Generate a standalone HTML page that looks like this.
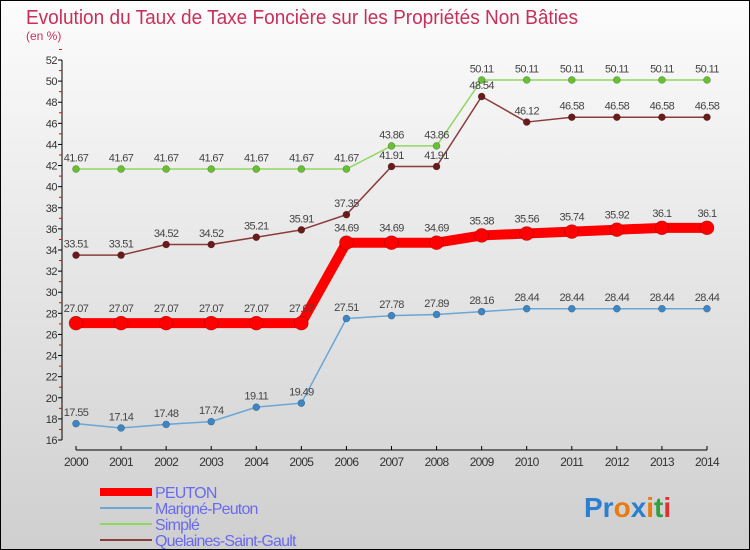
<!DOCTYPE html>
<html><head><meta charset="utf-8"><style>
body{margin:0}
svg{display:block;font-family:"Liberation Sans",sans-serif}
</style></head><body>
<svg id="c" width="750" height="550" xmlns="http://www.w3.org/2000/svg">
<defs><linearGradient id="bg" x1="0" y1="0" x2="0" y2="1"><stop offset="0" stop-color="#fcfcfc"/><stop offset="1" stop-color="#cfcfcf"/></linearGradient></defs>
<rect x="0.5" y="0.5" width="749" height="549" fill="url(#bg)" stroke="#000"/>
<text x="26" y="24" font-size="20" fill="#c8305a" textLength="552" lengthAdjust="spacingAndGlyphs">Evolution du Taux de Taxe Foncière sur les Propriétés Non Bâties</text>
<text x="26" y="40" font-size="12" fill="#c8305a">(en %)</text>
<g id="axes"></g>
<g id="series"></g>
<g id="legend"></g>
<text x="584" y="517" font-size="28" font-weight="bold"><tspan fill="#2a7fd0">Pr</tspan><tspan fill="#e87a10">o</tspan><tspan fill="#2a7fd0">x</tspan><tspan fill="#e87a10">i</tspan><tspan fill="#30a040">t</tspan><tspan fill="#e03030">i</tspan></text>
</svg>
<script>
const years=[2000,2001,2002,2003,2004,2005,2006,2007,2008,2009,2010,2011,2012,2013,2014];
const yTicks=[16,18,20,22,24,26,28,30,32,34,36,38,40,42,44,46,48,50,52];
const peuton=[27.07,27.07,27.07,27.07,27.07,27.07,34.69,34.69,34.69,35.38,35.56,35.74,35.92,36.1,36.1];
const marigne=[17.55,17.14,17.48,17.74,19.11,19.49,27.51,27.78,27.89,28.16,28.44,28.44,28.44,28.44,28.44];
const simple=[41.67,41.67,41.67,41.67,41.67,41.67,41.67,43.86,43.86,50.11,50.11,50.11,50.11,50.11,50.11];
const quelaines=[33.51,33.51,34.52,34.52,35.21,35.91,37.35,41.91,41.91,48.54,46.12,46.58,46.58,46.58,46.58];
const seriesNames=["PEUTON","Marigné-Peuton","Simplé","Quelaines-Saint-Gault"];
const NS="http://www.w3.org/2000/svg";
const x=i=>76+i*(707-76)/(years.length-1);
const y=v=>440-(v-16)*(380/36);
function mk(tag,attrs,parent){const e=document.createElementNS(NS,tag);for(const k in attrs)e.setAttribute(k,attrs[k]);parent.appendChild(e);return e;}
const ax=document.getElementById('axes');
let l=mk('line',{x1:62,y1:60,x2:62,y2:440,stroke:'#000'},ax);


yTicks.forEach(t=>{
  mk('line',{x1:58,y1:y(t),x2:62,y2:y(t),stroke:'#000'},ax);
  mk('line',{x1:59,y1:y(t+1),x2:62,y2:y(t+1),stroke:'#e00'},ax);
  const tx=mk('text',{x:57,y:y(t)+4,'font-size':11,fill:'#333','text-anchor':'end','letter-spacing':'-0.5'},ax);
  tx.textContent=t;
  
  
});
l=mk('line',{x1:76,y1:450,x2:707,y2:450,stroke:'#000'},ax);


years.forEach((yr,i)=>{
  mk('line',{x1:x(i),y1:446,x2:x(i),y2:450,stroke:'#000'},ax);
  const tx=mk('text',{x:x(i),y:466,'font-size':12,fill:'#333','text-anchor':'middle','letter-spacing':'-0.7'},ax);
  tx.textContent=yr;
  
  
});
const sg=document.getElementById('series');
const defs=[
 {d:marigne,line:'#6aa6d6',dot:'#3d86c6',lw:1.5,r:3.5,name:'marigne-peuton'},
 {d:simple,line:'#8fd860',dot:'#66c030',lw:1.5,r:3.5,name:'simple'},
 {d:quelaines,line:'#8a3c3c',dot:'#6a1a1a',lw:1.5,r:3.5,name:'quelaines-saint-gault'},
 {d:peuton,line:'#ff0000',dot:'#ff0000',lw:10,r:7,name:'peuton'}
];
defs.forEach(s=>{
  const g=mk('g',{},sg);
  
  
  const p=mk('polyline',{points:s.d.map((v,i)=>x(i)+','+y(v)).join(' '),fill:'none',stroke:s.line,'stroke-width':s.lw,'stroke-linejoin':'round'},g);
  
  
  s.d.forEach((v,i)=>{
    const c=mk('circle',{cx:x(i),cy:y(v),r:s.r,fill:s.dot,stroke:'rgba(0,0,0,0.3)','stroke-width':0.6},g);
    
    
    const t=mk('text',{x:x(i),y:y(v)-(s.r+4),'font-size':11,fill:'#444','text-anchor':'middle','letter-spacing':'-0.6'},g);
    t.textContent=v;
    
    
  });
});
const lg=document.getElementById('legend');
const lcol=['#ff0000','#6aa6d6','#8fd860','#8a3c3c'];
const lw=[8,2,2,2];
seriesNames.forEach((n,i)=>{
  const yy=492+i*16;
  const ln=mk('line',{x1:100,y1:yy,x2:152,y2:yy,stroke:lcol[i],'stroke-width':lw[i]},lg);
  
  
  const t=mk('text',{x:155,y:yy+6,'font-size':16,fill:'#6a6af0','letter-spacing':'-0.8'},lg);
  t.textContent=n;
  
  
});
</script>
</body></html>
